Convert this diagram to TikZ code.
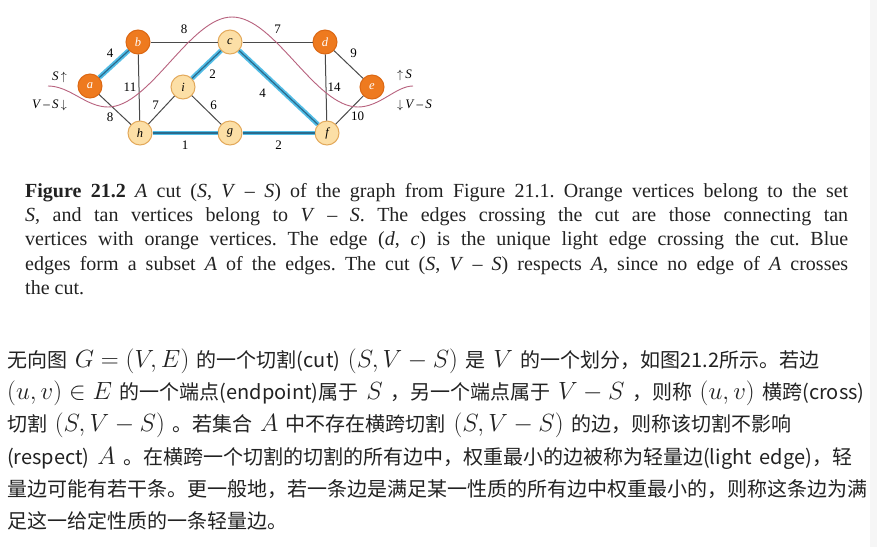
\documentclass[tikz,border=0pt]{standalone}
\usepackage{fontspec}
\setmainfont{Liberation Serif}
\newfontfamily\cjk[WordSpace=1.7]{Noto Sans CJK SC}
\usetikzlibrary{positioning}
\definecolor{vorange}{HTML}{EE7A1F}
\definecolor{vorangeline}{HTML}{DC6814}
\definecolor{vtan}{HTML}{FCDFA6}
\definecolor{vtanline}{HTML}{E3A95B}
\definecolor{edgegray}{HTML}{4A4A4A}
\definecolor{treeblue}{HTML}{52BDE6}
\definecolor{treecore}{HTML}{2B6A8C}
\definecolor{cutpink}{HTML}{B8627E}
\definecolor{inkdark}{HTML}{222222}
\newcommand{\km}[1]{{\fontsize{24}{24}\selectfont$#1$}}
\tikzset{
  vtx/.style={circle, minimum size=24pt, inner sep=0pt, line width=1pt,
    font=\fontsize{12.5}{12.5}\selectfont\itshape},
  inS/.style={vtx, fill=vorange, draw=vorangeline, text=white},
  outS/.style={vtx, fill=vtan, draw=vtanline, text=black},
  wt/.style={font=\fontsize{13}{13}\selectfont, inner sep=0pt},
  gedge/.style={draw=edgegray, line width=1pt},
  treeedge/.style={draw=treeblue, line width=1.8pt, double=treecore,
    double distance=1.2pt},
  sidelbl/.style={font=\fontsize{13}{13}\selectfont, inner sep=0pt},
  cjkline/.style={anchor=base west, inner sep=0pt, text=inkdark,
    font=\cjk\fontsize{20}{20}\selectfont},
}
\begin{document}
\begin{tikzpicture}[x=1pt, y=-1pt]
  \useasboundingbox[fill=white] (0,0) rectangle (877,547);
  \fill[gray!7] (870,0) rectangle (877,547);

  % vertices
  \node[inS]  (a) at (90,86)   {a};
  \node[inS]  (b) at (138,42)  {b};
  \node[outS] (c) at (230,42)  {c};
  \node[inS]  (d) at (325,42)  {d};
  \node[inS]  (e) at (372,87)  {e};
  \node[outS] (i) at (183,87)  {i};
  \node[outS] (h) at (140,133) {h};
  \node[outS] (g) at (230,133) {g};
  \node[outS] (f) at (327,133) {f};

  % edges
  \draw[treeedge] (a) -- node[wt, xshift=-4pt, yshift=11pt] (w-ab) {4} (b);
  \draw[gedge] (b) -- node[wt, yshift=13pt] (w-bc) {8} (c);
  \draw[gedge] (c) -- node[wt, yshift=13pt] (w-cd) {7} (d);
  \draw[gedge] (d) -- node[wt, xshift=5pt, yshift=11pt] (w-de) {9} (e);
  \draw[gedge] (b) -- node[wt, xshift=-9pt] (w-bh) {11} (h);
  \draw[treeedge] (c) -- node[wt, xshift=6pt, yshift=-10pt] (w-ci) {2} (i);
  \draw[treeedge] (c) -- node[wt, xshift=-16pt, yshift=-6pt] (w-cf) {4} (f);
  \draw[gedge] (d) -- node[wt, xshift=8pt] (w-df) {14} (f);
  \draw[gedge] (h) -- node[wt, xshift=-6pt, yshift=5pt] (w-hi) {7} (i);
  \draw[gedge] (i) -- node[wt, xshift=7pt, yshift=5pt] (w-ig) {6} (g);
  \draw[gedge] (a) -- node[wt, xshift=-5pt, yshift=-8pt] (w-ah) {8} (h);
  \draw[gedge] (e) -- node[wt, xshift=8pt, yshift=-6pt] (w-ef) {10} (f);
  \draw[treeedge] (h) -- node[wt, yshift=-12pt] (w-hg) {1} (g);
  \draw[treeedge] (g) -- node[wt, yshift=-12pt] (w-gf) {2} (f);

  % the cut
  \draw[cutpink, line width=0.9pt] (48,86) .. controls (70,86) and (86,107) .. (108,107)
    .. controls (150,107) and (190,17) .. (232,17)
    .. controls (275,17) and (315,107) .. (358,107)
    .. controls (380,107) and (396,86) .. (413,86);
  \node[sidelbl, anchor=east] (sideSL) at (67,77) {\textit{S}\,$\uparrow$};
  \node[sidelbl, anchor=east] (sideVL) at (67,105) {\textit{V}\,–\,\textit{S}\,$\downarrow$};
  \node[sidelbl, anchor=west] (sideSR) at (397,75) {$\uparrow$\,\textit{S}};
  \node[sidelbl, anchor=west] (sideVR) at (397,105) {$\downarrow$\,\textit{V}\,–\,\textit{S}};

  % caption
  \node[anchor=north west, text width=823pt, align=justify, inner sep=0pt,
    font=\fontsize{20}{24.3}\selectfont\frenchspacing, text=inkdark] (caption) at (25,183)
    {\textbf{Figure 21.2} \textit{A} cut (\textit{S}, \textit{V} – \textit{S}) of the graph from Figure 21.1. Orange vertices belong to the set\linebreak
     \textit{S}, and tan vertices belong to \textit{V} – \textit{S}. The edges crossing the cut are those connecting tan\linebreak
     vertices with orange vertices. The edge (\textit{d}, \textit{c}) is the unique light edge crossing the cut. Blue\linebreak
     edges form a subset \textit{A} of the edges. The cut (\textit{S}, \textit{V} – \textit{S}) respects \textit{A}, since no edge of \textit{A} crosses\linebreak
     the cut.};

  % text below
  \node[cjkline] (line1) at (7,367) {无向图 \km{G=(V,E)} 的一个切割(cut) \km{(S,V-S)} 是 \km{V} 的一个划分，如图21.2所示。若边};
  \node[cjkline] (line2) at (7,399) {\km{(u,v)\in E} 的一个端点(endpoint)属于 \km{S} ，另一个端点属于 \km{V-S} ，则称 \km{(u,v)} 横跨(cross)};
  \node[cjkline] (line3) at (7,431.5) {切割 \km{(S,V-S)} 。若集合 \km{A} 中不存在横跨切割 \km{(S,V-S)} 的边，则称该切割不影响};
  \node[cjkline] (line4) at (7,464) {(respect) \km{A} 。在横跨一个切割的切割的所有边中，权重最小的边被称为轻量边(light edge)，轻};
  \node[cjkline] (line5) at (7,496) {量边可能有若干条。更一般地，若一条边是满足某一性质的所有边中权重最小的，则称这条边为满};
  \node[cjkline] (line6) at (7,528) {足这一给定性质的一条轻量边。};
\end{tikzpicture}
\end{document}
